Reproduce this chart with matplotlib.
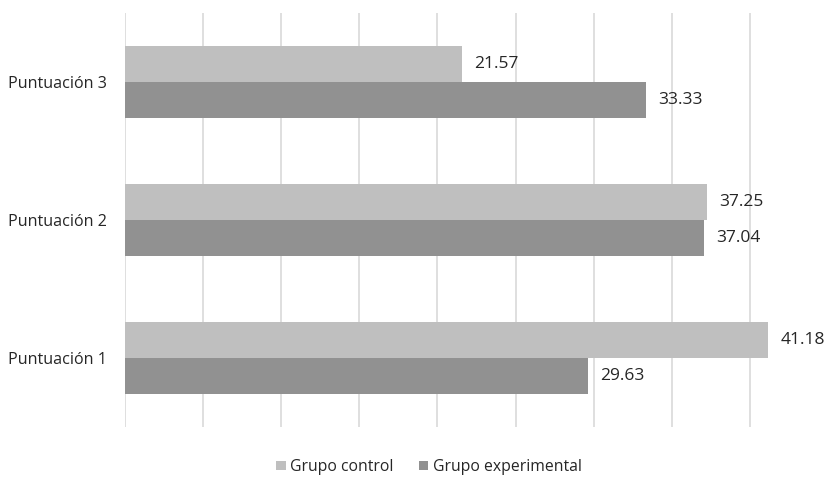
import numpy as np
import matplotlib.pyplot as plt

plt.rcParams['font.family'] = ['Open Sans', 'DejaVu Sans']

categorias = ["Puntuación 1", "Puntuación 2", "Puntuación 3"]
control = [41.18, 37.25, 21.57]
experimental = [29.63, 37.04, 33.33]
series = ["Grupo control", "Grupo experimental"]

fig = plt.figure(figsize=(8.28, 4.8), dpi=100)
ax = fig.add_axes([0.151, 0.1104, 0.849, 0.8625])

y = np.arange(len(categorias))
h = 0.26
b1 = ax.barh(y + h / 2, control, height=h, color="#bfbfbf", label=series[0], zorder=2)
b2 = ax.barh(y - h / 2, experimental, height=h, color="#919191", label=series[1], zorder=2)

for bars, vals in [(b1, control), (b2, experimental)]:
    for bar, v in zip(bars, vals):
        ax.annotate(f"{v:.2f}", (v, bar.get_y() + bar.get_height() / 2),
                    xytext=(9, 0), textcoords="offset points",
                    va="center", ha="left", fontsize=12.5, color="#262626")

ax.set_xlim(0, 45)
ax.set_ylim(-0.5, 2.5)
ax.set_xticks(np.arange(0, 46, 5))
ax.set_xticklabels([])
ax.set_yticks(y)
ax.set_yticklabels(categorias, fontsize=11.6, color="#262626")
ax.tick_params(axis="both", length=0)
ax.tick_params(axis="y", pad=13)
ax.grid(axis="x", color="#d9d9d9", linewidth=1.2, zorder=0)
for s in ax.spines.values():
    s.set_visible(False)

fig.legend(loc="center", bbox_to_anchor=(0.518, 0.027), ncol=2, frameon=False,
           fontsize=11.3, handlelength=0.6, handleheight=0.6, handletextpad=0.3,
           columnspacing=1.6, labelcolor="#262626")

fig.savefig("out.png", dpi=100)
